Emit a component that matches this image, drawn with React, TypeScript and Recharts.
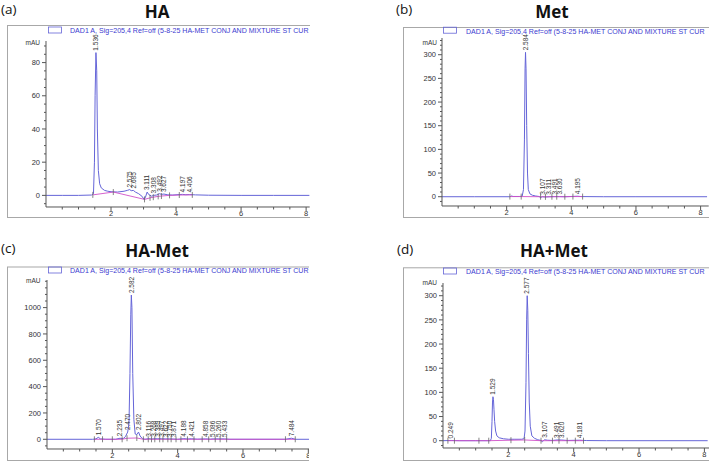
import React from "react";
import { ComposedChart, Line, Scatter, XAxis, YAxis } from "recharts";

type Pt = [number, number];

const FONT = "'Liberation Sans', Arial, sans-serif";
const TRACE = "#6464d8";
const BASE = "#d050c8";
const AXIS = "#555";
const FRAME = "#a8a8a8";
const LEGEND = "#3b3bd0";
const LEGEND_TEXT = "DAD1 A, Sig=205,4 Ref=off (5-8-25 HA-MET CONJ AND MIXTURE ST CUR";

// x axis (min)
const xTicks = [0.5, 1, 1.5, 2, 2.5, 3, 3.5, 4, 4.5, 5, 5.5, 6, 6.5, 7, 7.5, 8];
const xLabels = [2, 4, 6, 8];

// (a) HA
const haTrace: Pt[] = [
  [0, 0], [0.5, 0], [1.0, 0], [1.4, 0.2], [1.46, 1], [1.49, 20], [1.51, 60], [1.536, 86],
  [1.56, 75], [1.58, 40], [1.61, 15], [1.65, 7], [1.7, 4.5], [1.8, 3], [1.9, 2.5], [2.0, 2.2],
  [2.2, 2], [2.4, 2.5], [2.5, 3], [2.575, 3.5], [2.62, 2.8], [2.685, 3], [2.75, 2], [2.85, 1],
  [2.95, -0.5], [3.02, -2.5], [3.06, -1], [3.111, 2], [3.16, 0.5], [3.25, -0.5], [3.308, 0],
  [3.4, 0.2], [3.492, 1], [3.55, 0.6], [3.627, 0.8], [3.75, 0.3], [3.9, 0.2], [4.1, 0.5],
  [4.197, 0.6], [4.3, 0.4], [4.406, 0.5], [4.6, 0.3], [5.0, 0.1], [6, 0], [7, 0], [8.1, 0],
];
const haBase: Pt[] = [
  [1.44, 0.3], [2.07, 2], [3.03, -2.4], [3.2, -1.5], [3.3, -1.1], [3.45, -0.6], [3.55, -0.4],
  [3.8, 0], [4.1, 0.2], [4.5, 0.3],
];
const haPeaks: Pt[] = [
  [1.536, 86], [2.575, 3.5], [2.685, 3], [3.111, 2], [3.308, 0], [3.492, 1], [3.627, 0.8],
  [4.197, 0.6], [4.406, 0.5],
];
const haYTicks = [-5, 0, 5, 10, 15, 20, 25, 30, 35, 40, 45, 50, 55, 60, 65, 70, 75, 80, 85, 90];
const haYLabels = [0, 20, 40, 60, 80];

// (b) Met
const metTrace: Pt[] = [
  [0, 0], [1, 0], [2.1, 0], [2.15, 1.5], [2.2, 0.5], [2.4, 0.5], [2.48, 1], [2.52, 15],
  [2.55, 120], [2.57, 270], [2.584, 305], [2.6, 270], [2.62, 150], [2.645, 50], [2.67, 15],
  [2.72, 6], [2.8, 3], [2.9, 1.5], [3.0, 0.5], [3.05, -1.5], [3.107, 0], [3.2, -0.5],
  [3.311, 0], [3.491, 0.3], [3.63, 0.3], [3.8, 0], [4.195, 1], [4.3, 0.3], [5, 0], [6, 0], [8.2, 0],
];
const metBase: Pt[] = [
  [2.1, 0.3], [2.45, 0.3], [3.05, 0], [3.2, -0.3], [3.4, 0], [3.55, 0], [3.8, 0], [4.05, 0.3], [4.35, 0.3],
];
const metPeaks: Pt[] = [
  [2.584, 305], [3.107, 0], [3.311, 0], [3.491, 0.3], [3.63, 0.3], [4.195, 1],
];
const metYTicks = [-10, 0, 10, 20, 30, 40, 50, 60, 70, 80, 90, 100, 110, 120, 130, 140, 150, 160, 170, 180, 190, 200, 210, 220, 230, 240, 250, 260, 270, 280, 290, 300, 310, 320, 330];
const metYLabels = [0, 50, 100, 150, 200, 250, 300];

// (c) HA-Met
const conjTrace: Pt[] = [
  [0, 0], [1.4, 0], [1.5, 3], [1.57, 15], [1.64, 3], [1.8, 0], [2.1, 0], [2.235, 8], [2.33, 5],
  [2.4, 20], [2.47, 55], [2.51, 120], [2.54, 500], [2.565, 950], [2.582, 1095], [2.6, 1000],
  [2.625, 500], [2.66, 150], [2.7, 40], [2.75, 35], [2.802, 55], [2.85, 25], [2.92, 5],
  [3.0, 0], [3.116, 5], [3.2, 2], [3.268, 4], [3.389, 4], [3.497, 4], [3.622, 3], [3.75, 3],
  [3.871, 2], [4.0, 0], [4.188, 5], [4.3, 2], [4.421, 4], [4.6, 1], [4.858, 3], [5.0, 1],
  [5.086, 3], [5.26, 3], [5.433, 3], [5.6, 0], [7.3, 0], [7.484, 8], [7.6, 0], [8.03, 0],
];
const conjBase: Pt[] = [
  [1.45, 0], [1.7, 0], [2.0, 0], [2.3, 0], [2.45, 8], [2.75, 10], [2.95, 0], [3.1, 0], [3.2, 0],
  [3.3, 0], [3.45, 0], [3.55, 0], [3.7, 0], [3.8, 0], [3.95, 0], [4.1, 0], [4.3, 0], [4.5, 0],
  [4.75, 0], [4.95, 0], [5.15, 0], [5.3, 0], [5.5, 0], [7.3, 0], [7.6, 0],
];
const conjPeaks: Pt[] = [
  [1.57, 15], [2.235, 8], [2.47, 55], [2.582, 1095], [2.802, 55], [3.116, 5], [3.268, 4],
  [3.389, 4], [3.497, 4], [3.622, 3], [3.75, 3], [3.871, 2], [4.188, 5], [4.421, 4],
  [4.858, 3], [5.086, 3], [5.26, 3], [5.433, 3], [7.484, 8],
];
const conjYTicks = [-50, 0, 50, 100, 150, 200, 250, 300, 350, 400, 450, 500, 550, 600, 650, 700, 750, 800, 850, 900, 950, 1000, 1050, 1100, 1150, 1200];
const conjYLabels = [0, 200, 400, 600, 800, 1000];

// (d) HA+Met
const mixTrace: Pt[] = [
  [0, 0], [0.249, 0.5], [0.5, 0], [1.0, 0], [1.45, 0], [1.48, 5], [1.5, 40], [1.515, 80],
  [1.529, 91], [1.545, 85], [1.56, 65], [1.58, 40], [1.61, 20], [1.65, 10], [1.72, 6],
  [1.85, 4], [2.0, 3], [2.2, 3], [2.4, 3], [2.48, 4], [2.51, 20], [2.54, 120], [2.56, 250],
  [2.577, 300], [2.595, 270], [2.615, 180], [2.64, 80], [2.67, 30], [2.72, 10], [2.8, 5],
  [2.9, 2], [3.0, 0.5], [3.04, -2], [3.107, 2], [3.2, 1], [3.35, 0.5], [3.491, 1.5],
  [3.62, 1.5], [3.8, 0.5], [4.181, 1], [4.4, 0.3], [5, 0], [8.1, 0],
];
const mixBase: Pt[] = [
  [0.15, 0], [0.35, 0], [1.1, 0], [1.4, 0], [2.08, 1], [2.5, 1.5], [3.0, 0], [3.35, 0],
  [3.55, 0], [3.8, 0], [4.05, 0], [4.3, 0],
];
const mixPeaks: Pt[] = [
  [0.249, 0.5], [1.529, 91], [2.577, 300], [3.107, 2], [3.491, 1.5], [3.62, 1.5], [4.181, 1],
];
const mixYTicks = [-10, 0, 10, 20, 30, 40, 50, 60, 70, 80, 90, 100, 110, 120, 130, 140, 150, 160, 170, 180, 190, 200, 210, 220, 230, 240, 250, 260, 270, 280, 290, 300, 310, 320];
const mixYLabels = [0, 50, 100, 150, 200, 250, 300];

const rows = (pts: Pt[]) => pts.map(([t, v]) => ({ t, v }));

const XTick = (props: any) => {
  const { x, y, payload } = props;
  const major = xLabels.includes(payload.value);
  return (
    <g>
      <line x1={x} x2={x} y1={y} y2={y + (major ? 4 : 2.5)} stroke={AXIS} />
      {major && (
        <text x={x} y={y + 9.5} textAnchor="middle" fontSize={7.5} fill="#333" fontFamily={FONT}>
          {payload.value}
        </text>
      )}
    </g>
  );
};

const YTick = (props: any) => {
  const { x, y, payload, majors } = props;
  const major = majors.includes(payload.value);
  return (
    <g>
      <line x1={x} x2={x - (major ? 4 : 2)} y1={y} y2={y} stroke={AXIS} />
      {major && (
        <text x={x - 6} y={y} dy={2.7} textAnchor="end" fontSize={7.5} fill="#333" fontFamily={FONT}>
          {payload.value}
        </text>
      )}
    </g>
  );
};

const PeakLabel = (props: any) => {
  const { cx, cy } = props;
  const t = props.payload?.t ?? props.t;
  if (cx == null || cy == null) return <g />;
  return (
    <text
      x={cx + 2}
      y={cy}
      dy={2.3}
      transform={`rotate(-90 ${cx} ${cy})`}
      fontSize={6.5}
      fill="#333"
      fontFamily={FONT}
    >
      {Number(t).toFixed(3)}
    </text>
  );
};

const EventTick = (props: any) => {
  const { cx, cy, index } = props;
  if (cx == null || cy == null) return <g key={index} />;
  return <line key={index} x1={cx} x2={cx} y1={cy - 3} y2={cy + 3} stroke="#666" strokeWidth={0.8} />;
};

interface PanelDef {
  letter: string;
  title: string;
  clip: { l: number; t: number; w: number; h: number };
  letterX: number;
  letterY: number;
  titleX: number;
  titleY: number;
  frame: { l: number; t: number; b: number };
  legendY: number;
  boxX: number;
  textX: number;
  mauX: number;
  mauY: number;
  plot: { l: number; r: number; t: number; b: number };
  xMax: number;
  yDomain: [number, number];
  yTicks: number[];
  yLabels: number[];
  trace: Pt[];
  base: Pt[];
  peaks: Pt[];
}

const panels: PanelDef[] = [
  {
    letter: "(a)", title: "HA", clip: { l: 0, t: 0, w: 310, h: 230 },
    letterX: 1, letterY: 14, titleX: 157, titleY: 18,
    frame: { l: 7, t: 25, b: 217 }, legendY: 33.3, boxX: 48, textX: 70, mauX: 40, mauY: 42.3,
    plot: { l: 46.3, r: 310, t: 40.6, b: 206.6 }, xMax: 8.11, yDomain: [-7, 93],
    yTicks: haYTicks, yLabels: haYLabels, trace: haTrace, base: haBase, peaks: haPeaks,
  },
  {
    letter: "(b)", title: "Met", clip: { l: 355, t: 0, w: 354, h: 230 },
    letterX: 396, letterY: 14, titleX: 552, titleY: 18,
    frame: { l: 403, t: 27, b: 217 }, legendY: 33.5, boxX: 443, textX: 466, mauX: 437, mauY: 42.3,
    plot: { l: 442.3, r: 709, t: 38, b: 206 }, xMax: 8.25, yDomain: [-19.6, 335.3],
    yTicks: metYTicks, yLabels: metYLabels, trace: metTrace, base: metBase, peaks: metPeaks,
  },
  {
    letter: "(c)", title: "HA-Met", clip: { l: 0, t: 230, w: 309, h: 232 },
    letterX: 1, letterY: 253, titleX: 157, titleY: 257,
    frame: { l: 7, t: 266.5, b: 460 }, legendY: 273.3, boxX: 48, textX: 70, mauX: 40.5, mauY: 280.7,
    plot: { l: 46.7, r: 309, t: 280, b: 449 }, xMax: 8.03, yDomain: [-73.7, 1209.6],
    yTicks: conjYTicks, yLabels: conjYLabels, trace: conjTrace, base: conjBase, peaks: conjPeaks,
  },
  {
    letter: "(d)", title: "HA+Met", clip: { l: 355, t: 230, w: 354, h: 232 },
    letterX: 397, letterY: 254, titleX: 554, titleY: 257,
    frame: { l: 403, t: 267.3, b: 460 }, legendY: 274.3, boxX: 443, textX: 466, mauX: 437, mauY: 282.3,
    plot: { l: 442.7, r: 709, t: 283, b: 448 }, xMax: 8.15, yDomain: [-15.1, 326.3],
    yTicks: mixYTicks, yLabels: mixYLabels, trace: mixTrace, base: mixBase, peaks: mixPeaks,
  },
];

const Panel: React.FC<{ p: PanelDef }> = ({ p }) => {
  const yw = 40;
  const mt = 24;
  const xh = 14;
  const plotW = p.plot.r - p.plot.l;
  const plotH = p.plot.b - p.plot.t;
  const cl = p.clip.l;
  const ct = p.clip.t;
  return (
    <div style={{ position: "absolute", left: cl, top: ct, width: p.clip.w, height: p.clip.h, overflow: "hidden" }}>
      <svg width={p.clip.w} height={p.clip.h} style={{ position: "absolute", left: 0, top: 0 }}>
        <g transform={`translate(${-cl},${-ct})`}>
          <text x={p.letterX} y={p.letterY} fontSize={13.5} fill="#111" fontFamily="'Open Sans', sans-serif">
            {p.letter}
          </text>
          <text x={p.titleX} y={p.titleY} textAnchor="middle" fontSize={17} fontWeight={700} fill="#111" fontFamily="'Open Sans', sans-serif">
            {p.title}
          </text>
          <rect x={p.frame.l + 0.5} y={p.frame.t + 0.5} width={1000} height={p.frame.b - p.frame.t} fill="none" stroke={FRAME} />
          <rect x={p.boxX + 0.5} y={p.legendY - 6.3} width={13} height={6} fill="none" stroke={TRACE} strokeWidth={0.8} />
          <text x={p.textX} y={p.legendY} fontSize={7.05} fill={LEGEND} fontFamily={FONT}>
            {LEGEND_TEXT}
          </text>
          <text x={p.mauX} y={p.mauY} dy={2.3} textAnchor="end" fontSize={6.5} fill="#333" fontFamily={FONT}>
            mAU
          </text>
        </g>
      </svg>
      <div style={{ position: "absolute", left: p.plot.l - yw - cl, top: p.plot.t - mt - ct }}>
        <ComposedChart width={plotW + yw} height={plotH + mt + xh} margin={{ top: mt, right: 0, bottom: 0, left: 0 }}>
          <XAxis
            type="number"
            dataKey="t"
            domain={[0, p.xMax]}
            ticks={xTicks}
            interval={0}
            tickSize={0}
            tickMargin={0}
            tickLine={false}
            height={xh}
            axisLine={{ stroke: AXIS }}
            tick={<XTick />}
          />
          <YAxis
            type="number"
            dataKey="v"
            domain={p.yDomain}
            ticks={p.yTicks}
            interval={0}
            tickSize={0}
            tickMargin={0}
            tickLine={false}
            width={yw}
            axisLine={{ stroke: AXIS }}
            tick={<YTick majors={p.yLabels} />}
          />
          <Line data={rows(p.trace)} dataKey="v" type="linear" stroke={TRACE} strokeWidth={1} dot={false} isAnimationActive={false} />
          <Line data={rows(p.base)} dataKey="v" type="linear" stroke={BASE} strokeWidth={0.9} dot={EventTick} isAnimationActive={false} />
          <Scatter data={rows(p.peaks)} dataKey="v" shape={PeakLabel} isAnimationActive={false} />
        </ComposedChart>
      </div>
    </div>
  );
}

export default function App() {
  return (
    <div style={{ position: "absolute", left: 0, top: 0, width: 709, height: 462, background: "#fff", overflow: "hidden" }}>
      {panels.map((p) => (
        <Panel key={p.letter} p={p} />
      ))}
    </div>
  );
}
